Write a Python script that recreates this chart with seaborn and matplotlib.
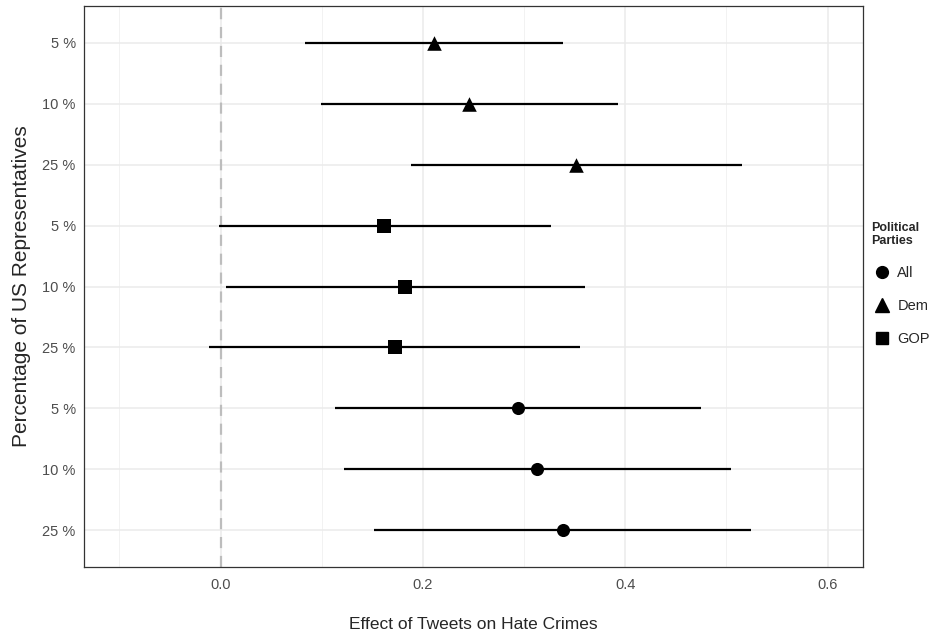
import matplotlib
matplotlib.use("Agg")
import matplotlib.pyplot as plt
import seaborn as sns
import pandas as pd
from matplotlib.lines import Line2D

# ---- data ----
party = ["Dem", "Dem", "Dem", "GOP", "GOP", "GOP", "All", "All", "All"]
share = ["5 %", "10 %", "25 %", "5 %", "10 %", "25 %", "5 %", "10 %", "25 %"]
estimate = [0.211, 0.246, 0.351, 0.162, 0.182, 0.172, 0.294, 0.313, 0.338]
ci_low = [0.083, 0.099, 0.188, -0.002, 0.005, -0.011, 0.113, 0.122, 0.152]
ci_high = [0.338, 0.393, 0.515, 0.327, 0.360, 0.355, 0.475, 0.505, 0.524]

legend_order = ["All", "Dem", "GOP"]
marker_map = {"All": "o", "Dem": "^", "GOP": "s"}
size_map = {"All": 9, "Dem": 10, "GOP": 9}

df = pd.DataFrame({"party": party, "share": share, "est": estimate,
                   "lo": ci_low, "hi": ci_high})
df["row"] = range(len(df))

sns.set_style("white")
plt.rcParams["font.family"] = ["Liberation Sans", "DejaVu Sans"]

fig, ax = plt.subplots(figsize=(9.35, 6.38), dpi=100)
fig.subplots_adjust(left=84 / 935, right=863 / 935, top=1 - 6 / 638, bottom=1 - 567 / 638)

# grid like ggplot theme_bw
for v in [-0.1, 0.1, 0.3, 0.5]:
    ax.axvline(v, color="#f2f2f2", lw=0.7, zorder=0)
for v in [0.0, 0.2, 0.4, 0.6]:
    ax.axvline(v, color="#ebebeb", lw=1.1, zorder=0)
for r in df["row"]:
    ax.axhline(r, color="#ebebeb", lw=1.1, zorder=0)

ax.axvline(0, color="#bdbdbd", lw=1.6, ls=(0, (5, 3.5)), zorder=1)

ax.hlines(df["row"], df["lo"], df["hi"], color="black", lw=1.6, zorder=2)

for p in legend_order:
    sub = df[df["party"] == p]
    sns.scatterplot(data=sub, x="est", y="row", marker=marker_map[p], s=size_map[p] ** 2 * 1.1,
                    color="black", edgecolor="black", linewidth=0, ax=ax, zorder=3, legend=False)

ax.set_xlim(-0.135, 0.635)
ax.set_ylim(len(df) - 0.4, -0.6)
ax.set_xticks([0.0, 0.2, 0.4, 0.6])
ax.set_xticklabels(["0.0", "0.2", "0.4", "0.6"])
ax.set_yticks(df["row"])
ax.set_yticklabels(df["share"])
ax.tick_params(axis="both", length=0, labelsize=10.5, labelcolor="#4d4d4d", pad=8)
ax.tick_params(axis="y", pad=6)

ax.set_xlabel("Effect of Tweets on Hate Crimes", fontsize=12.5, labelpad=18)
ax.set_ylabel("Percentage of US Representatives", fontsize=15, labelpad=8)

for s in ax.spines.values():
    s.set_color("#333333")
    s.set_linewidth(0.9)

handles = [Line2D([], [], ls="none", marker=marker_map[p], color="black",
                  markersize=size_map[p] - 0.5) for p in legend_order]
leg = fig.legend(handles, legend_order, title="Political\nParties", loc="center left",
                 bbox_to_anchor=(861 / 935, 0.555), frameon=False, fontsize=10.5,
                 title_fontproperties={"weight": "bold", "size": 9},
                 handletextpad=0.3, labelspacing=1.3, handlelength=1.5, borderaxespad=0.3)
leg._legend_box.align = "left"

fig.savefig("out.png", dpi=100)
